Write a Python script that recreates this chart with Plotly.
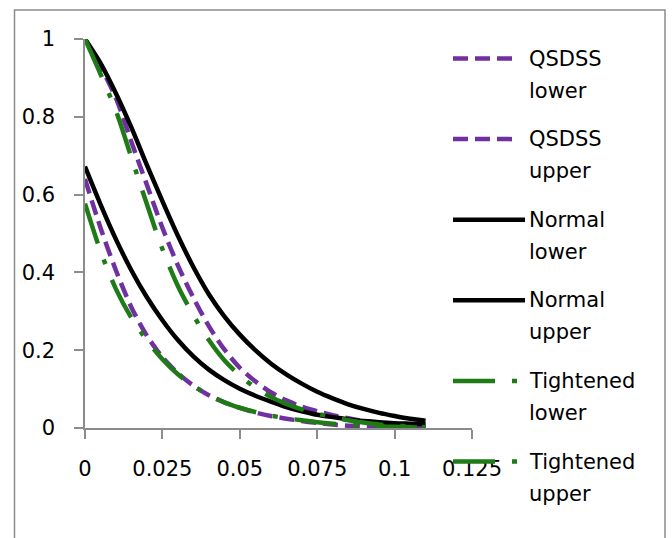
import plotly.graph_objects as go

# ---- data ----
x_vals = [0, 0.005, 0.01, 0.015, 0.02, 0.025, 0.03, 0.035, 0.04, 0.045,
          0.05, 0.055, 0.06, 0.065, 0.07, 0.075, 0.08, 0.085, 0.09, 0.095,
          0.10, 0.105, 0.11]

qsdss_lower = [1.0, 0.93, 0.848, 0.735, 0.625, 0.515, 0.418, 0.335, 0.262, 0.202,
               0.155, 0.12, 0.092, 0.071, 0.055, 0.043, 0.033, 0.025, 0.018, 0.012,
               0.008, 0.005, 0.003]
qsdss_upper = [0.64, 0.515, 0.405, 0.31, 0.237, 0.182, 0.141, 0.109, 0.084, 0.066,
               0.052, 0.040, 0.031, 0.024, 0.018, 0.013, 0.009, 0.006, 0.004, 0.003,
               0.002, 0.0015, 0.001]
normal_lower = [1.0, 0.938, 0.86, 0.772, 0.676, 0.583, 0.494, 0.414, 0.344, 0.287,
                0.240, 0.200, 0.166, 0.138, 0.114, 0.093, 0.076, 0.061, 0.049, 0.039,
                0.031, 0.024, 0.019]
normal_upper = [0.672, 0.575, 0.485, 0.405, 0.336, 0.277, 0.226, 0.184, 0.150, 0.123,
                0.101, 0.083, 0.068, 0.054, 0.043, 0.034, 0.028, 0.022, 0.018, 0.015,
                0.0125, 0.011, 0.0095]
tight_lower = [1.0, 0.91, 0.815, 0.695, 0.575, 0.46, 0.365, 0.29, 0.226, 0.174,
               0.135, 0.104, 0.08, 0.062, 0.048, 0.037, 0.028, 0.020, 0.014, 0.009,
               0.006, 0.004, 0.002]
tight_upper = [0.577, 0.455, 0.357, 0.283, 0.225, 0.177, 0.138, 0.108, 0.085, 0.066,
               0.052, 0.041, 0.032, 0.025, 0.02, 0.015, 0.011, 0.008, 0.006, 0.004,
               0.003, 0.002, 0.001]

series_names = ["QSDSS lower", "QSDSS upper", "Normal lower", "Normal upper",
                "Tightened lower", "Tightened upper"]
series_values = [qsdss_lower, qsdss_upper, normal_lower, normal_upper,
                 tight_lower, tight_upper]

x_ticks = [0, 0.025, 0.05, 0.075, 0.1, 0.125]
x_tick_labels = ["0", "0.025", "0.05", "0.075", "0.1", "0.125"]
y_ticks = [0, 0.2, 0.4, 0.6, 0.8, 1]
y_tick_labels = ["0", "0.2", "0.4", "0.6", "0.8", "1"]

# ---- styles ----
PURPLE = "#7030A0"
BLACK = "#000000"
GREEN = "#1E7B16"
GREY = "#8C8C8C"
FONT = "DejaVu Sans"
FS = 21
styles = [
    dict(color=PURPLE, dash="15px,7px", width=4.5),
    dict(color=PURPLE, dash="15px,7px", width=4.5),
    dict(color=BLACK, dash="solid", width=4.5),
    dict(color=BLACK, dash="solid", width=4.5),
    dict(color=GREEN, dash="42px,17px,5px,17px", width=4.5),
    dict(color=GREEN, dash="42px,17px,5px,17px", width=4.5),
]

W, H = 672, 538
ML, MR, MT, MB = 85, 200, 39, 110
PW, PH = W - ML - MR, H - MT - MB


def px_x(px):
    return (px - ML) / PW


def px_y(py):
    return (H - MB - py) / PH


fig = go.Figure()
for name, vals, st in zip(series_names, series_values, styles):
    fig.add_trace(go.Scatter(
        x=x_vals, y=vals, mode="lines", name=name,
        line=dict(color=st["color"], dash=st["dash"], width=st["width"], shape="spline", smoothing=0.8),
        cliponaxis=False, showlegend=False, hoverinfo="skip",
    ))

shapes = []
annotations = []
# outer chart frame
shapes.append(dict(type="rect", xref="paper", yref="paper",
                   x0=px_x(14.5), x1=px_x(665), y0=px_y(560), y1=px_y(10),
                   line=dict(color=GREY, width=1.5), layer="below"))

# custom legend
sample_ends = [515, 515, 525, 525, 523, 523]
for i, (name, st) in enumerate(zip(series_names, styles)):
    yc = 58.5 + 80.6 * i
    shapes.append(dict(type="line", xref="paper", yref="paper",
                       x0=px_x(453), x1=px_x(sample_ends[i]), y0=px_y(yc), y1=px_y(yc),
                       line=dict(color=st["color"], dash=st["dash"], width=st["width"])))
    first, second = name.split(" ")
    for j, word in enumerate([first, second]):
        annotations.append(dict(xref="paper", yref="paper", x=px_x(527), y=px_y(yc + 32 * j),
                                text=word, showarrow=False, xanchor="left", yanchor="middle",
                                font=dict(family=FONT, size=FS, color="#000000")))

fig.update_layout(
    width=W, height=H,
    margin=dict(l=ML, r=MR, t=MT, b=MB, pad=0),
    paper_bgcolor="white", plot_bgcolor="white",
    showlegend=False, hovermode=False,
    shapes=shapes, annotations=annotations,
    font=dict(family=FONT, size=FS, color="#000000"),
    xaxis=dict(range=[0, 0.125], tickvals=x_ticks, ticktext=x_tick_labels,
               showgrid=False, zeroline=False, showline=True, linecolor=GREY, linewidth=1.5,
               ticks="outside", ticklen=9, tickcolor=GREY, tickwidth=1.5,
               ticklabelstandoff=12, tickfont=dict(family=FONT, size=FS)),
    yaxis=dict(range=[0, 1], tickvals=y_ticks, ticktext=y_tick_labels,
               showgrid=False, zeroline=False, showline=True, linecolor=GREY, linewidth=1.5,
               ticks="outside", ticklen=9, tickcolor=GREY, tickwidth=1.5,
               ticklabelstandoff=15, tickfont=dict(family=FONT, size=FS)),
)

fig.write_html("out.html", config={"displayModeBar": False},
               post_script="document.body.style.margin='0px';document.body.style.overflow='hidden';")
